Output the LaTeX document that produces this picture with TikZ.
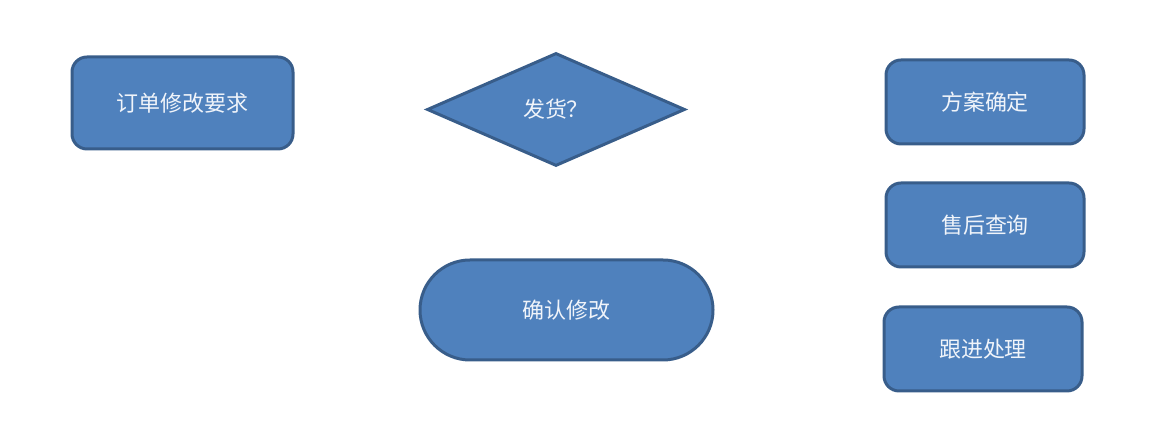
\documentclass[tikz,border=0pt]{standalone}
\usepackage{fontspec}
\newfontfamily\cjk{Noto Sans CJK SC}
\usetikzlibrary{shapes.geometric,positioning}

\begin{document}
\begin{tikzpicture}
%
\useasboundingbox (0,0) rectangle (22.98cm,8.96cm);
%
\definecolor{cfill}{RGB}{79,129,189}
\definecolor{cdraw}{RGB}{56,93,138}
\definecolor{ctext}{RGB}{240,244,250}
%
\tikzset{
  box/.style={draw=cdraw,fill=cfill,text=ctext,line width=0.06cm,
    font=\cjk\fontsize{12.5}{15}\selectfont,inner sep=0pt},
  rbox/.style={box,shape=rectangle,rounded corners=0.3cm},
  pill/.style={box,shape=rectangle,rounded corners=1cm},
  decide/.style={box,shape=diamond}
}
%
\node[rbox,minimum width=4.42cm,minimum height=1.84cm] (order) at (3.65cm,6.90cm) {订单修改要求};
\node[decide,minimum width=5.16cm,minimum height=2.26cm] (ship) at (11.12cm,6.77cm) {发货？};
\node[pill,minimum width=5.86cm,minimum height=2.0cm] (confirm) at (11.33cm,2.76cm) {确认修改};
%
\node[rbox,minimum width=3.96cm,minimum height=1.68cm] (plan) at (19.70cm,6.92cm) {方案确定};
\node[rbox,minimum width=3.96cm,minimum height=1.68cm] (after) at (19.70cm,4.46cm) {售后查询};
\node[rbox,minimum width=3.96cm,minimum height=1.68cm] (follow) at (19.66cm,1.98cm) {跟进处理};
%
\end{tikzpicture}
\end{document}
